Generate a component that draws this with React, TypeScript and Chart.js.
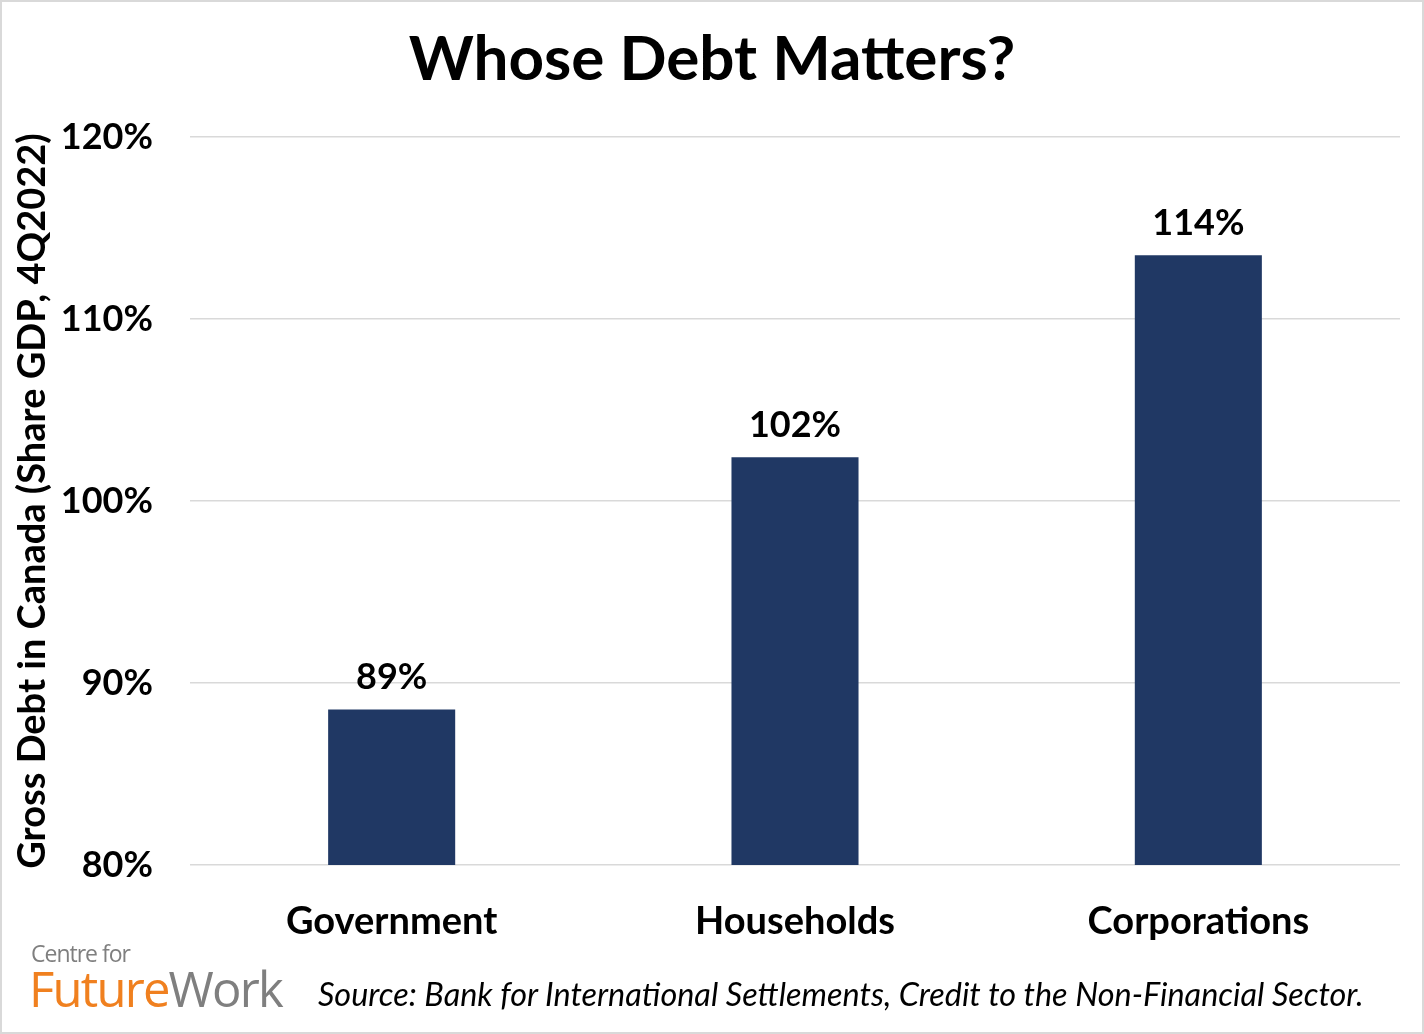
import React, { useEffect, useRef } from "react";
import { Chart, registerables } from "chart.js";

Chart.register(...registerables);

const categories = ["Government", "Households", "Corporations"];
const debtShare = [88.55, 102.4, 113.5];
const valueLabels = ["89%", "102%", "114%"];
const yTicks = [80, 90, 100, 110, 120];

const FONT = "Lato, 'Open Sans', sans-serif";

const barLabelPlugin = {
  id: "barLabels",
  afterDatasetsDraw(chart: any) {
    const { ctx } = chart;
    const meta = chart.getDatasetMeta(0);
    ctx.save();
    ctx.font = `bold 36px ${FONT}`;
    ctx.fillStyle = "#000";
    ctx.textAlign = "center";
    ctx.textBaseline = "alphabetic";
    meta.data.forEach((bar: any, i: number) => {
      ctx.fillText(valueLabels[i], bar.x, bar.y - 20);
    });
    ctx.restore();
  },
};

export default function App() {
  const ref = useRef<HTMLCanvasElement>(null);
  useEffect(() => {
    document.body.style.margin = "0";
    const chart = new Chart(ref.current!, {
      type: "bar",
      data: {
        labels: categories,
        datasets: [
          {
            data: debtShare,
            backgroundColor: "#203864",
            barPercentage: 0.315,
            categoryPercentage: 1,
          },
        ],
      },
      options: {
        animation: false,
        responsive: false,
        layout: { padding: { left: 0, right: 24, top: 137, bottom: 0 } },
        plugins: { legend: { display: false }, tooltip: { enabled: false } },
        scales: {
          x: {
            grid: { display: false },
            border: { display: false },
            ticks: {
              color: "#000",
              font: { family: FONT, size: 38, weight: "bold" },
              padding: 26,
            },
            afterFit: (s: any) => {
              s.height = 1034 - 865;
            },
          },
          y: {
            min: 80,
            max: 120,
            afterBuildTicks: (s: any) => {
              s.ticks = yTicks.map((v) => ({ value: v }));
            },
            grid: { color: "#d9d9d9", lineWidth: 1.5, drawTicks: false },
            border: { display: false },
            ticks: {
              color: "#000",
              font: { family: FONT, size: 36, weight: "bold" },
              padding: 37,
              callback: (v: any) => v + "%",
            },
            title: {
              display: true,
              text: "Gross Debt in Canada (Share GDP, 4Q2022)",
              color: "#000",
              font: { family: FONT, size: 38, weight: "bold" },
              padding: { top: 10, bottom: 0 },
            },
            afterFit: (s: any) => {
              s.width = 190;
            },
          },
        },
      },
      plugins: [barLabelPlugin],
    });
    return () => chart.destroy();
  }, []);

  return (
    <div
      style={{
        position: "relative",
        width: 1424,
        height: 1034,
        boxSizing: "border-box",
        border: "2px solid #d9d9d9",
        background: "#fff",
        overflow: "hidden",
      }}
    >
      <canvas
        ref={ref}
        width={1424}
        height={1034}
        style={{ position: "absolute", left: -2, top: -2 }}
      />
      <div
        style={{
          position: "absolute",
          left: 0,
          right: 0,
          top: 17,
          textAlign: "center",
          fontFamily: FONT,
          fontWeight: "bold",
          fontSize: 62,
          lineHeight: 1.2,
          color: "#000",
        }}
      >
        Whose Debt Matters?
      </div>
      <div
        style={{
          position: "absolute",
          left: 27,
          top: 940,
          fontFamily: "'Open Sans', sans-serif",
          color: "#7f7f7f",
          lineHeight: 1,
        }}
      >
        <div style={{ fontSize: 23, letterSpacing: -1, marginLeft: 2 }}>Centre for</div>
        <div style={{ fontSize: 49, letterSpacing: -1.8, marginTop: -1 }}>
          <span style={{ color: "#f0801f" }}>Future</span>
          <span>Work</span>
        </div>
      </div>
      <div
        style={{
          position: "absolute",
          left: 316,
          top: 973,
          fontFamily: FONT,
          fontStyle: "italic",
          fontSize: 32.4,
          lineHeight: 1.2,
          color: "#000",
          whiteSpace: "nowrap",
        }}
      >
        Source: Bank for International Settlements, Credit to the Non-Financial Sector.
      </div>
    </div>
  );
}
